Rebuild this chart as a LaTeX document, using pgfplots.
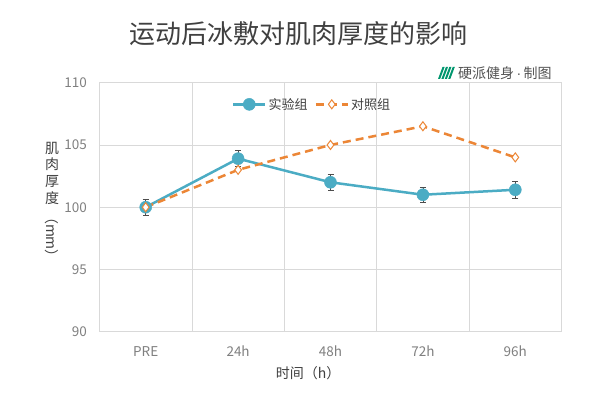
\documentclass[border=0pt]{standalone}
\usepackage{pgfplots}
\pgfplotsset{compat=1.18}
\usepackage{fontspec}
\setmainfont{Noto Sans CJK SC}
\newfontfamily\latinfont{Liberation Sans}
\definecolor{cblue}{RGB}{75,172,196}
\definecolor{corange}{RGB}{236,134,54}
\definecolor{cgrid}{RGB}{217,217,217}
\definecolor{ctick}{RGB}{128,128,128}
\definecolor{ctitle}{RGB}{64,64,64}
\definecolor{clogo}{RGB}{0,150,110}
\begin{document}
\begin{tikzpicture}[x=1pt,y=1pt]
\path[use as bounding box, fill=white] (0,0) rectangle (600,395);
\begin{axis}[
  at={(99.5pt,63.3pt)}, anchor=south west,
  scale only axis, width=462pt, height=249pt,
  xmin=-0.5, xmax=4.5, ymin=90, ymax=110,
  ytick={90,95,100,105,110},
  xtick={0,1,2,3,4},
  xticklabels={PRE,24h,48h,72h,96h},
  minor xtick={0.5,1.5,2.5,3.5},
  xminorgrids, ymajorgrids,
  major tick length=0pt, minor tick length=0pt,
  axis line style={cgrid, line width=0.8pt},
  grid style={cgrid, line width=0.8pt},
  minor grid style={cgrid, line width=0.8pt},
  tick label style={font=\fontsize{13.5}{14}\selectfont, text=ctick},
  /pgf/number format/assume math mode=true,
  xticklabel style={yshift=-11pt},
  yticklabel style={xshift=-9pt},
  legend style={at={(0.46,0.955)}, anchor=north, draw=none, fill=none,
    font=\fontsize{13}{14}\selectfont, text=ctitle,
    /tikz/every even column/.append style={column sep=5pt},
    /tikz/every odd column/.append style={inner xsep=1pt}},
  legend columns=2,
  legend image code/.code={\draw[#1] (0pt,0pt) -- (32pt,0pt); \draw[#1, solid] plot coordinates {(16pt,0pt)};},
]
\addplot[color=cblue, line width=2.5pt, mark=*, mark size=6pt, mark options={fill=cblue, draw=cblue, line width=0.5pt},
  error bars/.cd, y dir=both, y explicit,
  error bar style={black!70, line width=0.7pt},
  error mark options={rotate=90, mark size=3pt, black!70, line width=0.7pt}]
  coordinates {(0,100) +- (0,0.62) (1,103.9) +- (0,0.65) (2,102) +- (0,0.65) (3,101) +- (0,0.62) (4,101.4) +- (0,0.65)};
\addlegendentry{实验组}
\addplot[color=corange, line width=2.5pt, dash pattern=on 8pt off 5pt, mark=diamond*, mark size=4.5pt, mark options={solid, fill=white, draw=corange, line width=1pt}]
  coordinates {(0,100) (1,103) (2,105) (3,106.5) (4,104)};
\addlegendentry{对照组}
\end{axis}
\node[font=\fontsize{26}{28}\selectfont, text=ctitle] at (298,361) {运动后冰敷对肌肉厚度的影响};
\foreach \c [count=\k] in {肌,肉,厚,度} {
  \node[font=\fontsize{14}{16}\selectfont, text=ctitle, inner sep=0pt] at (52,{247-(\k-1)*16.7}) {\c};
}
\node[font=\fontsize{14}{16}\selectfont, text=ctitle, inner sep=0pt, rotate=-90] at (52,158) {（mm）};
\node[font=\fontsize{14}{16}\selectfont, text=ctitle] at (308,22) {时间（h）};
\node[font=\fontsize{14}{16}\selectfont, text=ctitle!90, anchor=west, inner sep=0pt] at (458,322) {硬派健身{\latinfont\,·\,}制图};
\foreach \i in {0,1,2,3} {
  \fill[clogo] ({438+\i*3.4},316) -- ({442.5+\i*3.4},328) -- ({444.6+\i*3.4},328) -- ({440.1+\i*3.4},316) -- cycle;
}
\end{tikzpicture}
\end{document}
